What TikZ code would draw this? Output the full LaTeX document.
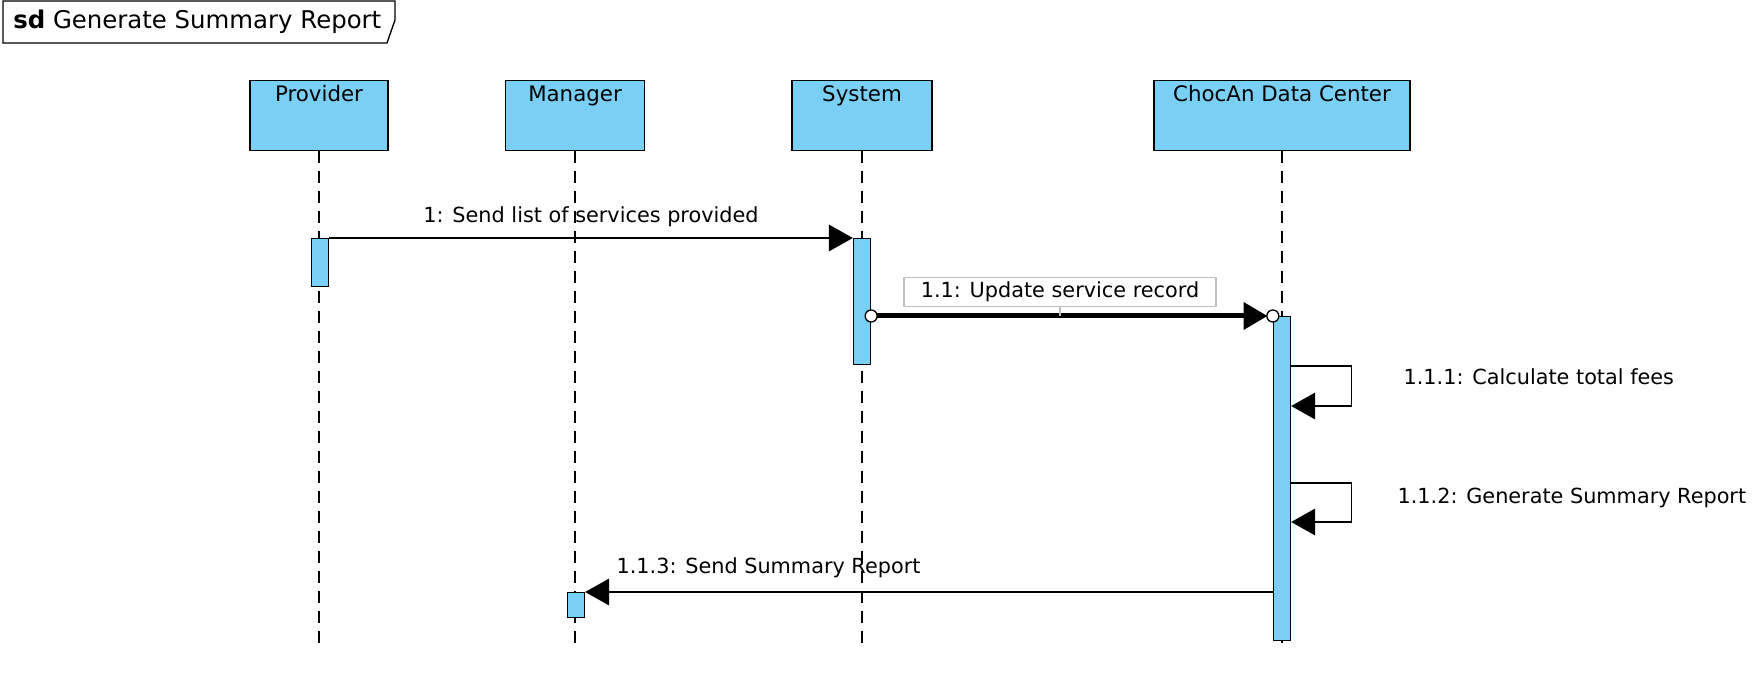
\documentclass[tikz,border=0pt]{standalone}
\usepackage{fontspec}
\setmainfont{DejaVu Sans}
\usetikzlibrary{arrows.meta, positioning}
\definecolor{actblue}{RGB}{122,207,245}
\tikzset{>={Triangle[length=18pt,width=20pt]}}
\tikzset{
	head/.style={draw, fill=actblue, line width=1pt, minimum height=52.5pt, anchor=north, inner sep=0pt},
	act/.style={draw, fill=actblue, line width=1pt, minimum width=12.75pt, anchor=north, inner sep=0pt},
	life/.style={line width=1pt, dash pattern=on 9pt off 6pt},
	msg/.style={->, line width=1pt},
	lbl/.style={font=\fontsize{15.6}{18}\selectfont, inner sep=1pt},
	hlbl/.style={font=\fontsize{16}{19}\selectfont, anchor=north, inner sep=4pt}
}

\begin{document}
\begin{tikzpicture}[x=0.75pt, y=-0.75pt]
		\useasboundingbox (0,0) rectangle (1760,698);

		% frame label
		\draw[line width=1pt] (3,1) -- (395,1) -- (395,20) -- (387,43) -- (3,43) -- cycle;
		\node[anchor=west, font=\fontsize{18.3}{21}\selectfont, inner sep=0pt] (title) at (13,22) {\textbf{sd} Generate Summary Report};

		% heads
		\node[head, minimum width=103.5pt, label={[hlbl]north:Provider}] (prov) at (319,80) {};
		\node[head, minimum width=104pt, label={[hlbl]north:Manager}] (mgr) at (575,80) {};
		\node[head, minimum width=105pt, label={[hlbl]north:System}] (sys) at (862,80) {};
		\node[head, minimum width=192pt, label={[hlbl]north:ChocAn Data Center}] (cdc) at (1282,80) {};

		% lifelines
		\foreach \n in {prov, mgr, sys, cdc}
			\draw[life] (\n.south) -- (\n.south |- 0,650) coordinate (\n-end);

		% activations
		\node[act, minimum height=36pt] (pa) at (320,238) {};
		\node[act, minimum height=94.5pt] (sa) at (862,238) {};
		\node[act, minimum height=243pt] (ca) at (1282,316) {};
		\node[act, minimum height=18.75pt] (ma) at (576,592) {};

		% 1
		\draw[msg] (pa.north east) -- (sa.north west) node[lbl, midway, above=7pt] {1: Send list of services provided};

		% 1.1
		\coordinate (s11) at (sa.east |- ca.north);
		\draw[->, line width=3.75pt, shorten >=4pt] (s11) -- (ca.north west);
		\node[lbl, draw=black!25, line width=1pt, minimum width=234pt, minimum height=21.75pt] (l11) at (1060,292) {1.1: Update service record};
		\draw[black!25, line width=1pt] (l11.south) -- (l11.south |- s11);
		\draw[fill=white, line width=1pt] (s11) circle (4.5pt);
		\draw[fill=white, line width=1pt] (ca.north west) circle (4.5pt);

		% 1.1.1 and 1.1.2
		\draw[msg] (ca.north east) ++(0,50) -- ++(60,0) -- ++(0,40) -- ++(-60,0);
		\node[lbl, anchor=west] (l111) at (1402,377) {1.1.1: Calculate total fees};
		\draw[msg] (ca.north east) ++(0,167) -- ++(60,0) -- ++(0,39) -- ++(-60,0);
		\node[lbl, anchor=west] (l112) at (1396,498) {1.1.2: Generate Summary Report};

		% 1.1.3
		\draw[msg] (ca.west |- ma.north) -- (ma.north east);
		\node[lbl, anchor=west] (l113) at (615,568) {1.1.3: Send Summary Report};

	\end{tikzpicture}
\end{document}
